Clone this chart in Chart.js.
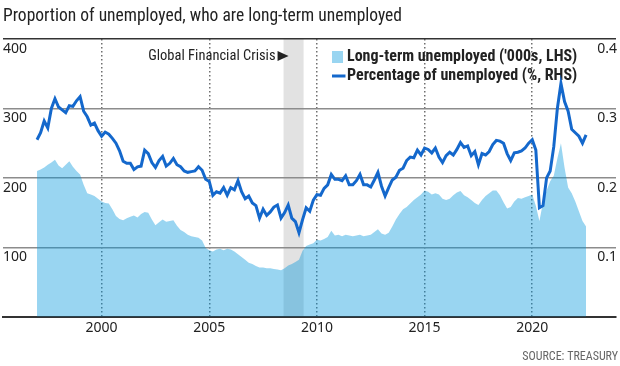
<!DOCTYPE html>
<html>
<head>
  <title>Proportion of unemployed, who are long-term unemployed</title>
  <script src="https://cdn.jsdelivr.net/npm/chart.js"></script>
  <style>
    body { margin: 0; background: #fff; }
    #wrap { width: 620px; height: 366px; }
  </style>
</head>
<body>
  <div id="wrap"><canvas id="ltuChart"></canvas></div>

  <script>
    // readings every two months, Jan 1997 onwards
    const startYear = 1997;
    const perYear = 6;

    // long-term unemployed, '000s (LHS)
    const longTermThousands = [
      210, 212, 215, 219, 222, 226,   // 1997
      218, 214, 219, 224, 216, 210,   // 1998
      205, 190, 178, 176, 174, 170,   // 1999
      166, 164, 163, 155, 145, 141,   // 2000
      139, 142, 144, 146, 143, 148,   // 2001
      151, 150, 140, 132, 136, 140,   // 2002
      137, 138, 139, 131, 125, 122,   // 2003
      118, 116, 115, 114, 110, 99,    // 2004
      96, 94, 97, 98, 96, 98,         // 2005
      97, 94, 90, 86, 82, 78,         // 2006
      76, 73, 71, 71, 70, 70,         // 2007
      69, 68, 67, 70, 74, 76,         // 2008
      79, 82, 95, 102, 104, 106,      // 2009
      111, 110, 112, 115, 124, 117,   // 2010
      118, 116, 118, 117, 116, 117,   // 2011
      118, 116, 117, 118, 122, 126,   // 2012
      120, 118, 121, 130, 140, 148,   // 2013
      155, 158, 163, 168, 172, 176,   // 2014
      182, 180, 176, 178, 176, 170,   // 2015
      168, 170, 175, 179, 181, 175,   // 2016
      172, 168, 164, 161, 168, 174,   // 2017
      178, 182, 182, 175, 165, 156,   // 2018
      158, 166, 171, 170, 172, 174,   // 2019
      176, 160, 138, 165, 182, 195,   // 2020
      203, 228, 250, 215, 186, 178,   // 2021
      166, 152, 138, 130              // 2022
    ];

    // long-term share of unemployed (RHS)
    const shareLongTerm = [
      0.255, 0.265, 0.282, 0.272, 0.300, 0.314,   // 1997
      0.302, 0.298, 0.294, 0.304, 0.303, 0.311,   // 1998
      0.317, 0.296, 0.288, 0.276, 0.279, 0.268,   // 1999
      0.260, 0.266, 0.263, 0.257, 0.250, 0.239,   // 2000
      0.224, 0.221, 0.221, 0.212, 0.216, 0.217,   // 2001
      0.240, 0.235, 0.222, 0.215, 0.225, 0.231,   // 2002
      0.217, 0.221, 0.228, 0.219, 0.216, 0.210,   // 2003
      0.208, 0.209, 0.210, 0.216, 0.211, 0.198,   // 2004
      0.195, 0.175, 0.180, 0.178, 0.186, 0.175,   // 2005
      0.186, 0.183, 0.196, 0.180, 0.170, 0.174,   // 2006
      0.164, 0.160, 0.142, 0.155, 0.146, 0.151,   // 2007
      0.158, 0.161, 0.142, 0.150, 0.161, 0.142,   // 2008
      0.137, 0.121, 0.140, 0.157, 0.152, 0.168,   // 2009
      0.176, 0.175, 0.185, 0.190, 0.205, 0.198,   // 2010
      0.198, 0.196, 0.203, 0.190, 0.190, 0.196,   // 2011
      0.205, 0.190, 0.190, 0.187, 0.197, 0.208,   // 2012
      0.188, 0.174, 0.186, 0.197, 0.201, 0.211,   // 2013
      0.214, 0.225, 0.230, 0.229, 0.240, 0.233,   // 2014
      0.243, 0.241, 0.236, 0.243, 0.230, 0.222,   // 2015
      0.232, 0.237, 0.233, 0.241, 0.251, 0.244,   // 2016
      0.246, 0.232, 0.238, 0.219, 0.235, 0.233,   // 2017
      0.238, 0.248, 0.254, 0.253, 0.250, 0.235,   // 2018
      0.225, 0.236, 0.237, 0.239, 0.243, 0.250,   // 2019
      0.255, 0.240, 0.157, 0.160, 0.200, 0.210,   // 2020
      0.245, 0.300, 0.336, 0.310, 0.296, 0.270,   // 2021
      0.265, 0.260, 0.250, 0.262                  // 2022
    ];

    const yearTicks = [2000, 2005, 2010, 2015, 2020];
    const gfcStart = 2008.45;
    const gfcEnd = 2009.38;

    const narrow = "'Liberation Sans Narrow', 'Roboto Condensed', 'DejaVu Sans Condensed', sans-serif";

    const toPoints = arr => arr.map((v, i) => ({ x: startYear + i / perYear, y: v }));

    // grey GFC band, under the grid
    const gfcBand = {
      id: 'gfcBand',
      beforeDraw(chart) {
        const { ctx, chartArea, scales } = chart;
        const x0 = scales.x.getPixelForValue(gfcStart);
        const x1 = scales.x.getPixelForValue(gfcEnd);
        ctx.save();
        ctx.fillStyle = '#e2e2e2';
        ctx.fillRect(x0, chartArea.top, x1 - x0, chartArea.bottom - chartArea.top);
        ctx.restore();
      },
      afterDraw(chart) {
        const { ctx, chartArea, scales } = chart;
        const x0 = scales.x.getPixelForValue(gfcStart);
        const y = chartArea.top + 17;
        ctx.save();
        ctx.font = '14.5px ' + narrow;
        ctx.fillStyle = '#222';
        ctx.textAlign = 'right';
        ctx.textBaseline = 'middle';
        ctx.fillText('Global Financial Crisis', x0 - 8, y);
        ctx.beginPath();
        ctx.moveTo(x0 - 6, y - 5);
        ctx.lineTo(x0 + 5, y);
        ctx.lineTo(x0 - 6, y + 5);
        ctx.closePath();
        ctx.fill();
        ctx.restore();
      }
    };

    // put the legend in the top right of the plot
    const legendSpot = {
      id: 'legendSpot',
      afterLayout(chart) {
        const lg = chart.legend;
        const w = lg.width;
        lg.left = 332;
        lg.right = lg.left + w;
        lg.top = 46;
        lg.bottom = lg.top + 100;
      }
    };

    const ctx = document.getElementById('ltuChart').getContext('2d');
    new Chart(ctx, {
      type: 'line',
      data: {
        datasets: [{
          label: "Long-term unemployed ('000s, LHS)",
          data: toPoints(longTermThousands),
          yAxisID: 'y',
          fill: 'origin',
          backgroundColor: 'rgba(0, 150, 220, 0.4)',
          borderWidth: 0,
          pointRadius: 0,
          pointStyle: 'rect',
          order: 2
        }, {
          label: 'Percentage of unemployed (%, RHS)',
          data: toPoints(shareLongTerm),
          yAxisID: 'y1',
          fill: false,
          borderColor: '#1468cc',
          backgroundColor: '#1468cc',
          borderWidth: 3,
          pointRadius: 0,
          pointStyle: 'line',
          order: 1
        }]
      },
      options: {
        responsive: true,
        maintainAspectRatio: false,
        animation: false,
        layout: { padding: { left: 3, right: 2, top: 0, bottom: 0 } },
        scales: {
          x: {
            type: 'linear',
            min: 1995.42,
            max: 2023.89,
            afterBuildTicks: scale => { scale.ticks = yearTicks.map(v => ({ value: v })); },
            grid: { color: '#6f6f6f', lineWidth: 1.5, drawTicks: false },
            border: { display: true, color: '#333', width: 2, dash: [1.5, 2.5] },
            ticks: {
              padding: 3,
              color: '#222',
              font: { family: "'Noto Sans', sans-serif", size: 14 },
              callback: v => String(v)
            }
          },
          y: {
            position: 'left',
            min: 0,
            max: 400,
            grid: {
              drawTicks: false,
              color: c => c.tick.value === 400 ? '#333' : (c.tick.value === 0 ? 'rgba(0,0,0,0)' : '#8c8c8c'),
              lineWidth: 1.6
            },
            border: { display: false },
            ticks: {
              stepSize: 100,
              mirror: true,
              padding: 0,
              labelOffset: 10,
              color: '#222',
              font: { family: "'Noto Sans', sans-serif", size: 14 },
              callback: v => v === 0 ? '' : String(v)
            }
          },
          y1: {
            position: 'right',
            min: 0,
            max: 0.4,
            grid: { display: false, drawTicks: false },
            border: { display: false },
            ticks: {
              stepSize: 0.1,
              mirror: true,
              padding: 1,
              labelOffset: 10,
              color: '#222',
              font: { family: "'Noto Sans', sans-serif", size: 14 },
              callback: v => v === 0 ? '' : v.toFixed(1)
            }
          }
        },
        plugins: {
          title: {
            display: true,
            text: 'Proportion of unemployed, who are long-term unemployed',
            align: 'start',
            color: '#222',
            font: { family: narrow, size: 17.5, weight: 'normal' },
            padding: { top: 6, bottom: 12 }
          },
          subtitle: {
            display: true,
            text: 'SOURCE: TREASURY',
            position: 'bottom',
            align: 'end',
            color: '#666',
            font: { family: narrow, size: 12, weight: 'normal' },
            padding: { top: 10, bottom: 2 }
          },
          legend: {
            position: 'chartArea',
            align: 'start',
            labels: {
              usePointStyle: true,
              boxWidth: 4,
              boxHeight: 12,
              padding: 3,
              color: '#222',
              font: { family: narrow, size: 16, weight: 'bold' },
              sort: (a, b) => a.datasetIndex - b.datasetIndex
            }
          },
          tooltip: { enabled: false }
        }
      },
      plugins: [gfcBand, legendSpot]
    });
  </script>
</body>
</html>
